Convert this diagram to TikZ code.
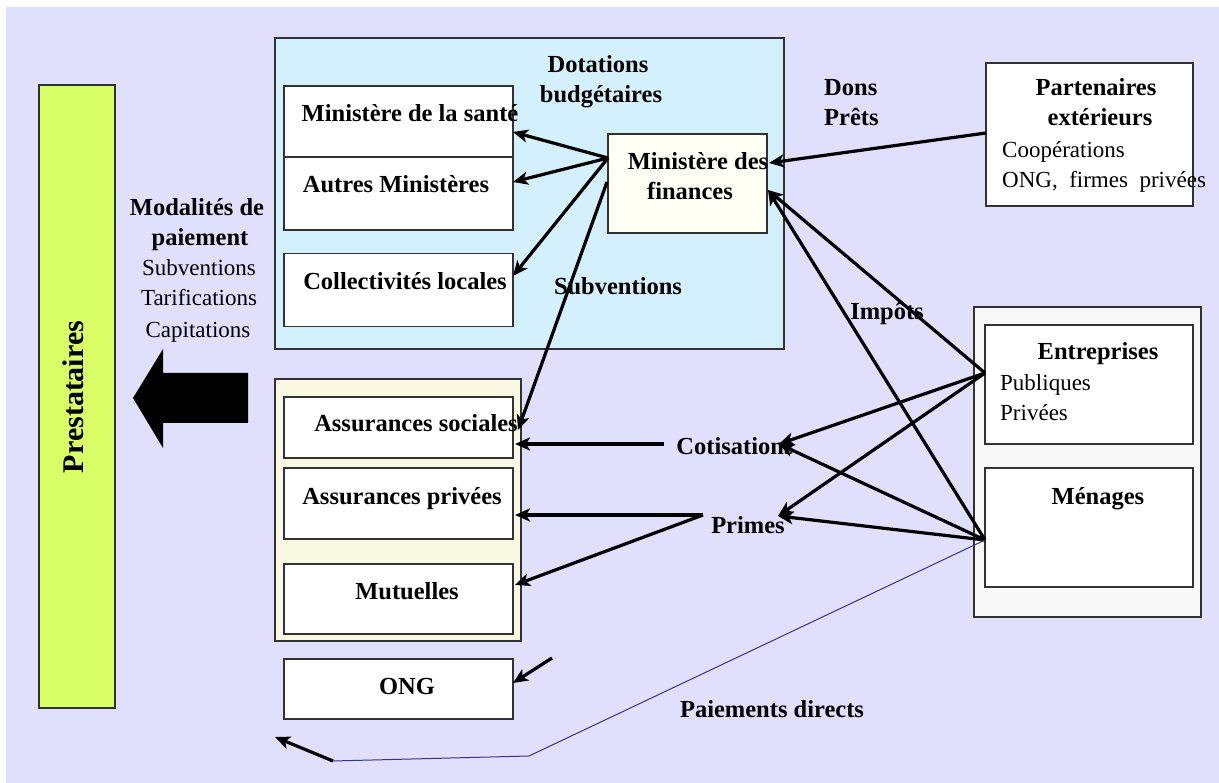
\documentclass[tikz,border=0pt]{standalone}
\usepackage{fontspec}
\setmainfont{Liberation Serif}
\usetikzlibrary{arrows.meta}
\definecolor{bgl}{RGB}{224,224,252}
\definecolor{bluebox}{RGB}{212,240,252}
\definecolor{yelbox}{RGB}{250,250,228}
\definecolor{greenbox}{RGB}{217,255,102}
\definecolor{graybox}{RGB}{248,248,248}
\definecolor{ivory}{RGB}{255,255,246}
\definecolor{boxline}{RGB}{50,50,50}
\definecolor{navy}{RGB}{51,51,140}
\begin{document}
\begin{tikzpicture}[x=1pt,y=-1pt,
  box/.style={draw=boxline,line width=1.4pt,fill=white,inner sep=0pt,outer sep=0pt},
  bt/.style={font=\fontsize{24.5}{30}\selectfont\bfseries,inner sep=0pt,anchor=base},
  rt/.style={font=\fontsize{23}{30}\selectfont,inner sep=0pt,anchor=base},
  flow/.style={line width=3.2pt,-{Stealth[length=15pt,width=13pt,inset=4pt]}},
  plain/.style={line width=3.2pt}]
\useasboundingbox (0,0) rectangle (1219,783);
\fill[white] (0,0) rectangle (1219,783);
\fill[bgl] (6,7) rectangle (1219,783);

% containers
\node[box,fill=bluebox,minimum width=509pt,minimum height=311pt] (etat) at (529.5,193.5) {};
\node[box,fill=yelbox,minimum width=246pt,minimum height=262pt] (assur) at (398,510) {};
\node[box,fill=graybox,minimum width=227pt,minimum height=310pt] (prive) at (1087.5,462) {};

% Prestataires
\node[box,fill=greenbox,minimum width=76pt,minimum height=623pt] (prest) at (77,396.5) {};
\node[font=\fontsize{30}{36}\selectfont\bfseries,inner sep=0pt,anchor=base,rotate=90] (prestT) at (83,397) {Prestataires};

% big arrow
\fill[black] (248,373) -- (163,373) -- (163,349) -- (133,398) -- (163,448) -- (163,423) -- (248,423) -- cycle;

% state boxes
\node[box,minimum width=229pt,minimum height=71pt] (sante) at (398.5,121.5) {};
\node[box,minimum width=229pt,minimum height=73pt] (autres) at (398.5,193.5) {};
\node[box,minimum width=229pt,minimum height=73pt] (coll) at (398.5,290) {};
\node[box,fill=ivory,minimum width=159pt,minimum height=99pt] (fin) at (687.5,183.5) {};

\node[bt] (santeT) at (410,122) {Ministère de la santé};
\node[bt] (autresT) at (396,193) {Autres Ministères};
\node[bt] (collT) at (405,290) {Collectivités locales};
\node[bt] (finT1) at (698,170) {Ministère des};
\node[bt] (finT2) at (690,200) {finances};
\node[bt] (dot1) at (598,73) {Dotations};
\node[bt] (dot2) at (601,103) {budgétaires};

% insurance boxes
\node[box,minimum width=229pt,minimum height=61pt] (as) at (398.5,427.5) {};
\node[box,minimum width=229pt,minimum height=71pt] (ap) at (398.5,503.5) {};
\node[box,minimum width=229pt,minimum height=70pt] (mut) at (398.5,599) {};
\node[box,minimum width=229pt,minimum height=60pt] (ong) at (398.5,689) {};
\node[bt] (asT) at (416,432) {Assurances sociales};
\node[bt] (apT) at (402,505) {Assurances privées};
\node[bt] (mutT) at (407,599) {Mutuelles};
\node[bt] (ongT) at (407,694) {ONG};

% right boxes
\node[box,minimum width=207pt,minimum height=143pt] (part) at (1089.5,134.5) {};
\node[box,minimum width=208pt,minimum height=119pt] (ent) at (1089,384.5) {};
\node[box,minimum width=208pt,minimum height=119pt] (men) at (1089,527.5) {};
\node[bt] (partT1) at (1096,96) {Partenaires};
\node[bt] (partT2) at (1100,126) {extérieurs};
\node[rt,anchor=base west] (partT3) at (1002,158) {Coopérations};
\node[rt,anchor=base west] (partT4) at (1002,188) {ONG,\ \ firmes\ \ privées};
\node[bt] (entT) at (1098,360) {Entreprises};
\node[rt,anchor=base west] (entT2) at (1000,391) {Publiques};
\node[rt,anchor=base west] (entT3) at (1000,421) {Privées};
\node[bt] (menT) at (1098,505) {Ménages};

% labels
\node[bt] (modT1) at (197,216) {Modalités de};
\node[bt] (modT2) at (200,246) {paiement};
\node[rt] (modT3) at (199,276) {Subventions};
\node[rt] (modT4) at (199,306) {Tarifications};
\node[rt] (modT5) at (198,338) {Capitations};
\node[bt,anchor=base west] (dons) at (824,96) {Dons};
\node[bt,anchor=base west] (prets) at (824,126) {Prêts};
\node[bt] (subT) at (618,295) {Subventions};
\node[bt] (impT) at (887,320) {Impôts};
\node[bt] (cotT) at (735,455) {Cotisations};
\node[bt] (primT) at (748,533) {Primes};
\node[bt] (paieT) at (772,717) {Paiements directs};

% connector points
\coordinate (finOut) at (608,158);
\coordinate (finSub) at (607,182);
\coordinate (santeIn) at (513,132);
\coordinate (autresIn) at (513,182);
\coordinate (collIn) at (513,276);
\coordinate (asInS) at (518,430);
\coordinate (partOut) at (986,133);
\coordinate (finInP) at (769,163);
\coordinate (finInI) at (768,190);
\coordinate (entOut) at (985,373);
\coordinate (menOut) at (985,540);
\coordinate (cotOut) at (664,444);
\coordinate (asIn) at (515,444);
\coordinate (cotIn) at (779,444);
\coordinate (primOut) at (703,515);
\coordinate (apIn) at (515,515);
\coordinate (mutIn) at (515,585);
\coordinate (primIn) at (778,516);
\coordinate (ongFrom) at (552,658);
\coordinate (ongIn) at (513,683);
\coordinate (pd1) at (529,756);
\coordinate (pd2) at (333,761);
\coordinate (pdTip) at (275,737);

% connectors
\draw[flow] (finOut) -- (santeIn);
\draw[flow] (finOut) -- (autresIn);
\draw[flow] (finOut) -- (collIn);
\draw[flow] (finSub) -- (asInS);
\draw[flow] (partOut) -- (finInP);
\draw[flow] (entOut) -- (finInI);
\draw[flow] (menOut) -- (finInI);
\draw[flow] (entOut) -- (cotIn);
\draw[flow] (menOut) -- (cotIn);
\draw[flow] (entOut) -- (primIn);
\draw[flow] (menOut) -- (primIn);
\draw[flow] (cotOut) -- (asIn);
\draw[flow] (primOut) -- (apIn);
\draw[flow] (primOut) -- (mutIn);
\draw[flow] (ongFrom) -- (ongIn);
\draw[navy,line width=1pt] (menOut) -- (pd1) -- (pd2);
\draw[flow] (pd2) -- (pdTip);
\end{tikzpicture}
\end{document}
